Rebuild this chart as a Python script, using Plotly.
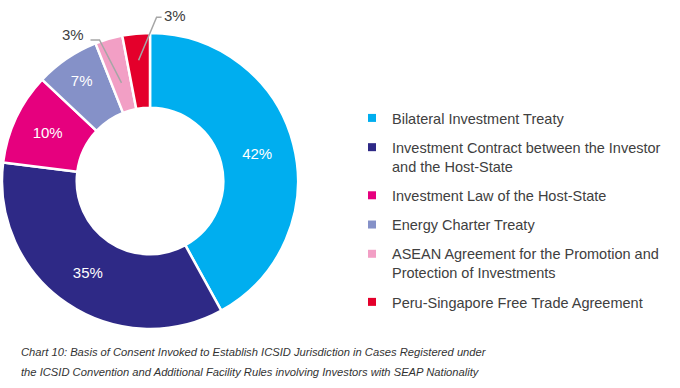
import math
import plotly.graph_objects as go

labels = [
    "Bilateral Investment Treaty",
    "Investment Contract between the Investor<br>and the Host-State",
    "Investment Law of the Host-State",
    "Energy Charter Treaty",
    "ASEAN Agreement for the Promotion and<br>Protection of Investments",
    "Peru-Singapore Free Trade Agreement",
]
values = [42, 35, 10, 7, 3, 3]
colors = ["#00AEEF", "#2E2986", "#E6007E", "#8591C8", "#F29FC5", "#E4002B"]
inside = [True, True, True, True, False, False]
caption_lines = [
    "Chart 10: Basis of Consent Invoked to Establish ICSID Jurisdiction in Cases Registered under",
    "the ICSID Convention and Additional Facility Rules involving Investors with SEAP Nationality",
]

W, H = 680, 388
cx, cy, R = 150, 181, 148
hole = 0.495

def px(x):
    return x / W

def py(y):
    return 1 - y / H

texts = [f"{v}%" if ins else "" for v, ins in zip(values, inside)]

fig = go.Figure()
fig.add_trace(go.Pie(
    labels=labels,
    values=values,
    text=texts,
    textinfo="text",
    textposition="inside",
    insidetextorientation="horizontal",
    insidetextfont=dict(color="white", size=15, family="Liberation Sans, Arial"),
    marker=dict(colors=colors, line=dict(color="white", width=2.5)),
    hole=hole,
    sort=False,
    direction="clockwise",
    rotation=0,
    showlegend=False,
    domain=dict(x=[px(cx - R), px(cx + R)], y=[py(cy + R), py(cy - R)]),
))

# legend entries via dummy traces (one group each to control spacing)
for lab, col in zip(labels, colors):
    fig.add_trace(go.Scatter(
        x=[None], y=[None], mode="markers", name=lab, legendgroup=lab,
        marker=dict(symbol="square", size=8, color=col),
    ))

# outside labels with elbow leader lines for small slices
total = sum(values)
cum = 0
shapes = []
annotations = []
# (elbow dx, elbow dy, horizontal run, radius fraction of tip, anchor, label gap, label dy)
offsets = {4: (-22, -43, -9, 0.69, "right", 5, -5), 5: (18, -43, 5, 0.82, "left", 0, -2)}
for i, v in enumerate(values):
    mid = (cum + v / 2) / total * 2 * math.pi
    cum += v
    if inside[i]:
        continue
    dx1, dy1, dx2, rf, anchor, gap, ldy = offsets[i]
    tx = cx + R * rf * math.sin(mid)
    ty = cy - R * rf * math.cos(mid)
    ex, ey = tx + dx1, ty + dy1
    fx, fy = ex + dx2, ey
    shapes.append(dict(
        type="path", xref="paper", yref="paper",
        path=f"M {px(tx)} {py(ty)} L {px(ex)} {py(ey)} L {px(fx)} {py(fy)}",
        line=dict(color="#A6A6A6", width=1.5),
    ))
    annotations.append(dict(
        x=px(fx + (-gap if anchor == "right" else gap)), y=py(fy + ldy),
        xref="paper", yref="paper",
        text=f"{v}%", showarrow=False, xanchor=anchor, yanchor="middle",
        font=dict(size=15, color="#404040", family="Liberation Sans, Arial"),
    ))

for k, line in enumerate(caption_lines):
    annotations.append(dict(
        x=px(19), y=py(352 + 20 * k), xref="paper", yref="paper",
        xanchor="left", yanchor="middle", showarrow=False,
        text=f"<i>{line}</i>",
        font=dict(size=11.2, color="#333333", family="Liberation Sans, Arial"),
    ))

fig.update_layout(
    width=W, height=H,
    margin=dict(l=0, r=0, t=0, b=0),
    paper_bgcolor="white", plot_bgcolor="white",
    xaxis=dict(visible=False), yaxis=dict(visible=False),
    shapes=shapes,
    annotations=annotations,
    legend=dict(
        x=px(352), y=py(102), xanchor="left", yanchor="top",
        xref="paper", yref="paper",
        font=dict(size=14.5, color="#404040", family="Liberation Sans, Arial"),
        tracegroupgap=7.4, valign="top", bgcolor="rgba(0,0,0,0)",
    ),
    showlegend=True,
)

fig.write_html(
    "out.html",
    config={"displayModeBar": False},
    post_script="document.body.style.margin='0px';",
)
